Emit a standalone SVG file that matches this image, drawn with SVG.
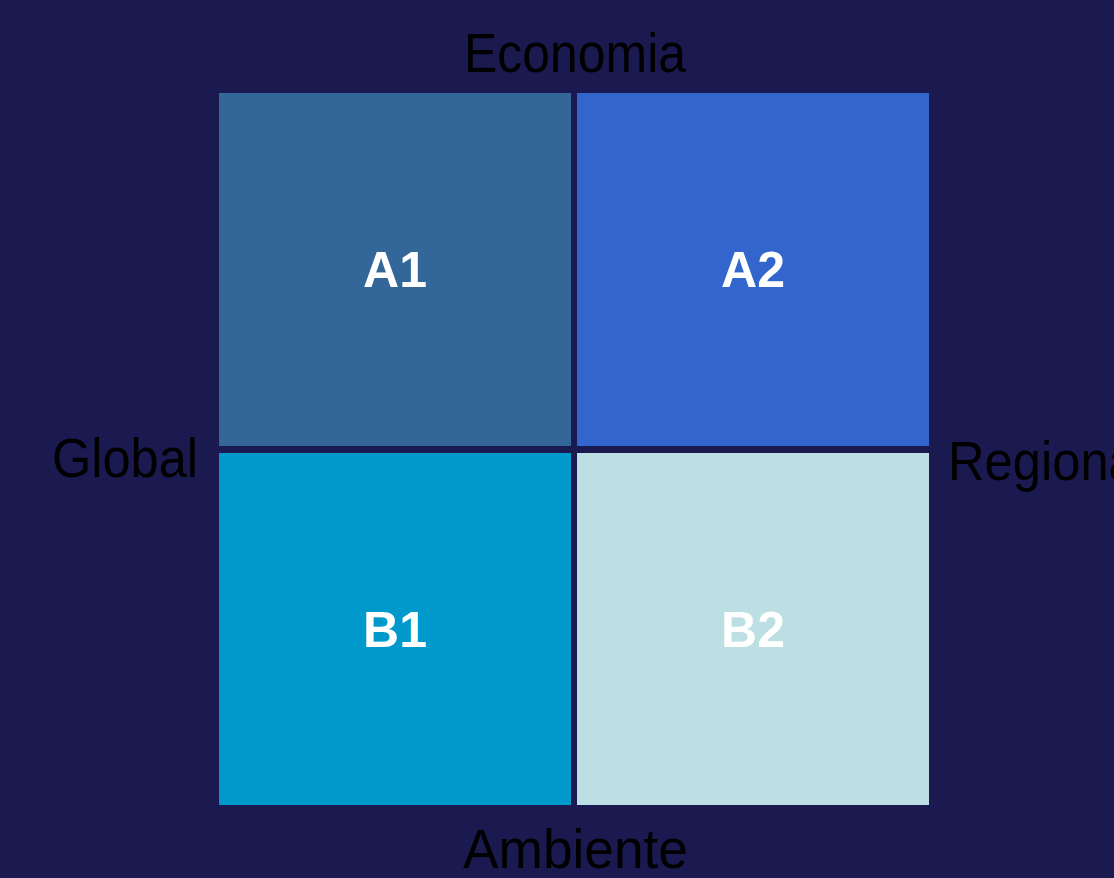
<svg xmlns="http://www.w3.org/2000/svg" width="1114" height="878" viewBox="0 0 1114 878">
<style>
.axis{font-family:"Liberation Sans",Arial,sans-serif;font-size:55px;fill:#000000}
.q{font-family:"Liberation Sans",Arial,sans-serif;font-size:50px;font-weight:bold;fill:#ffffff;text-anchor:middle}
</style>
<rect x="0" y="0" width="1114" height="878" fill="#1b1a50"/>
<g id="A1"><rect x="219" y="93" width="352" height="353" fill="#336699"/><text class="q" x="395" y="287">A1</text></g>
<g id="A2"><rect x="577" y="93" width="352" height="353" fill="#3366cc"/><text class="q" x="753" y="287">A2</text></g>
<g id="B1"><rect x="219" y="453" width="352" height="352" fill="#0099cc"/><text class="q" x="395" y="647">B1</text></g>
<g id="B2"><rect x="577" y="453" width="352" height="352" fill="#bbdfe2"/><text class="q" x="753" y="647">B2</text></g>
<g id="labels">
<text class="axis" x="464" y="72" textLength="222" lengthAdjust="spacingAndGlyphs">Economia</text>
<text class="axis" x="463" y="868" textLength="225" lengthAdjust="spacingAndGlyphs">Ambiente</text>
<text class="axis" x="52" y="477" textLength="146" lengthAdjust="spacingAndGlyphs">Global</text>
<text class="axis" x="948" y="480" textLength="200" lengthAdjust="spacingAndGlyphs">Regional</text>
</g>
<g id="connectors"/>
</svg>
